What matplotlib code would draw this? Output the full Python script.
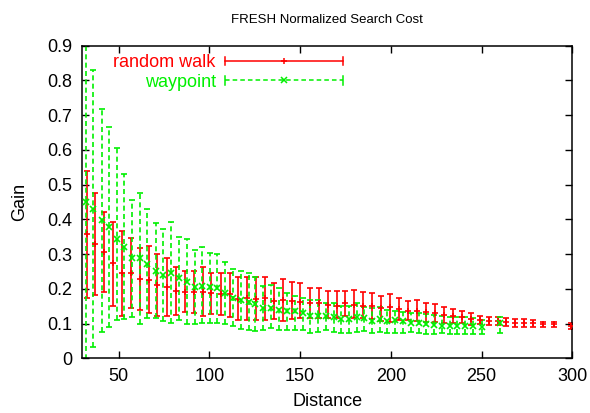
import matplotlib
matplotlib.use("Agg")
import matplotlib.pyplot as plt
from matplotlib.legend_handler import HandlerBase
from matplotlib.lines import Line2D
import numpy as np

plt.rcParams['font.family'] = ['Liberation Sans', 'DejaVu Sans']

# ---------------- data ----------------
rw_x = [32.4, 37.1, 41.9, 47.0, 51.8, 56.8, 61.7, 66.6, 71.4, 76.4,
        81.5, 86.4, 91.4, 96.3, 101.1, 106.2, 111.2, 115.7, 120.7, 125.6,
        130.8, 135.9, 140.7, 145.6, 150.2, 155.5, 160.2, 165.2, 170.1, 174.9,
        179.8, 184.8, 189.8, 194.8, 199.6, 204.6, 209.6, 214.3, 219.2, 224.2,
        229.3, 234.2, 239.0, 244.1, 249.1, 254.0, 258.9, 263.5, 268.7, 273.6,
        278.4, 283.8, 290.1, 299.5]
rw_y = [0.357, 0.328, 0.307, 0.274, 0.245, 0.245, 0.228, 0.226, 0.211, 0.206,
        0.194, 0.192, 0.192, 0.192, 0.187, 0.184, 0.184, 0.171, 0.173, 0.170,
        0.173, 0.165, 0.168, 0.166, 0.163, 0.158, 0.158, 0.154, 0.151, 0.158,
        0.154, 0.152, 0.152, 0.144, 0.149, 0.141, 0.137, 0.137, 0.132, 0.129,
        0.125, 0.122, 0.120, 0.114, 0.110, 0.107, 0.107, 0.105, 0.103, 0.103,
        0.101, 0.099, 0.099, 0.094]
rw_lo = [0.173, 0.182, 0.192, 0.152, 0.123, 0.144, 0.139, 0.130, 0.123, 0.122,
         0.125, 0.132, 0.131, 0.123, 0.127, 0.124, 0.120, 0.110, 0.110, 0.109,
         0.109, 0.113, 0.108, 0.112, 0.115, 0.115, 0.115, 0.115, 0.116, 0.122,
         0.115, 0.115, 0.112, 0.107, 0.105, 0.110, 0.110, 0.108, 0.105, 0.104,
         0.101, 0.101, 0.101, 0.096, 0.098, 0.096, 0.096, 0.094, 0.091, 0.091,
         0.091, 0.091, 0.089, 0.084]
rw_hi = [0.539, 0.475, 0.422, 0.393, 0.367, 0.345, 0.319, 0.323, 0.299, 0.290,
         0.262, 0.251, 0.252, 0.262, 0.247, 0.245, 0.247, 0.235, 0.235, 0.233,
         0.235, 0.216, 0.228, 0.221, 0.216, 0.203, 0.201, 0.194, 0.194, 0.194,
         0.198, 0.190, 0.189, 0.180, 0.184, 0.173, 0.166, 0.168, 0.160, 0.155,
         0.149, 0.141, 0.137, 0.131, 0.122, 0.120, 0.118, 0.115, 0.113, 0.112,
         0.110, 0.105, 0.105, 0.101]

wp_x = [32.0, 36.0, 40.8, 44.8, 49.1, 53.1, 57.5, 61.7, 65.9, 70.5,
        74.5, 78.7, 83.1, 87.5, 91.9, 95.9, 100.2, 104.2, 108.4, 112.8,
        117.2, 121.6, 125.4, 129.8, 134.1, 138.5, 142.6, 147.3, 151.4, 155.7,
        159.7, 164.3, 168.5, 172.5, 176.7, 181.1, 185.4, 189.6, 194.0, 198.1,
        202.3, 206.9, 211.0, 215.6, 219.6, 223.8, 228.0, 232.4, 236.6, 240.8,
        245.2, 250.0, 260.4]
wp_y = [0.449, 0.429, 0.397, 0.377, 0.343, 0.321, 0.288, 0.288, 0.272, 0.250,
        0.240, 0.246, 0.230, 0.220, 0.204, 0.209, 0.204, 0.201, 0.187, 0.175,
        0.168, 0.161, 0.156, 0.146, 0.144, 0.139, 0.136, 0.136, 0.130, 0.122,
        0.122, 0.122, 0.118, 0.112, 0.112, 0.120, 0.115, 0.108, 0.113, 0.108,
        0.110, 0.107, 0.103, 0.101, 0.099, 0.096, 0.093, 0.093, 0.093, 0.093,
        0.093, 0.091, 0.101]
wp_lo = [-0.050, 0.032, 0.075, 0.089, 0.110, 0.112, 0.120, 0.099, 0.115, 0.115,
         0.106, 0.102, 0.110, 0.099, 0.099, 0.101, 0.101, 0.101, 0.098, 0.094,
         0.084, 0.081, 0.079, 0.081, 0.086, 0.081, 0.081, 0.081, 0.081, 0.074,
         0.077, 0.081, 0.077, 0.074, 0.073, 0.077, 0.079, 0.072, 0.077, 0.074,
         0.072, 0.074, 0.077, 0.072, 0.070, 0.070, 0.072, 0.070, 0.070, 0.070,
         0.070, 0.070, 0.074]
wp_hi = [0.950, 0.830, 0.717, 0.667, 0.605, 0.530, 0.456, 0.477, 0.429, 0.389,
         0.371, 0.391, 0.350, 0.343, 0.312, 0.321, 0.302, 0.299, 0.276, 0.257,
         0.252, 0.245, 0.235, 0.209, 0.211, 0.203, 0.189, 0.179, 0.175, 0.168,
         0.168, 0.160, 0.158, 0.150, 0.150, 0.160, 0.149, 0.146, 0.149, 0.139,
         0.136, 0.134, 0.131, 0.131, 0.128, 0.125, 0.122, 0.120, 0.120, 0.118,
         0.117, 0.110, 0.118]

x_ticks = [50, 100, 150, 200, 250, 300]
y_ticks = [0, 0.1, 0.2, 0.3, 0.4, 0.5, 0.6, 0.7, 0.8, 0.9]

RED = '#ff0000'
GREEN = '#00f000'
FS = 13
TITLE_FS = 9.5

# ---------------- figure ----------------
fig = plt.figure(figsize=(5.9, 4.13), dpi=100)
ax = fig.add_axes([82.3 / 590, 1 - 358.3 / 413, (572.3 - 82.3) / 590, (358.3 - 45.7) / 413])


def errbars(x, y, lo, hi, color, marker, dashed):
    x = np.asarray(x); y = np.asarray(y)
    yerr = [y - np.asarray(lo), np.asarray(hi) - y]
    eb = ax.errorbar(x, y, yerr=yerr, fmt='none', ecolor=color, elinewidth=1.2,
                     capsize=2.2, capthick=1.2, clip_on=True, zorder=2)
    if dashed:
        eb[2][0].set_linestyle((0, (3, 2)))
    ax.plot(x, y, linestyle='none', marker=marker, color=color, markersize=5,
            markeredgewidth=1.2, zorder=3)
    return eb


errbars(rw_x, rw_y, rw_lo, rw_hi, RED, '+', False)
errbars(wp_x, wp_y, wp_lo, wp_hi, GREEN, 'x', True)

ax.set_xlim(30, 300)
ax.set_ylim(0, 0.9)
ax.set_xticks(x_ticks)
ax.set_yticks(y_ticks)
ax.set_yticklabels(['0' if v == 0 else f'{v:.1f}' for v in y_ticks])
ax.tick_params(direction='in', length=5, width=1, top=True, right=True,
               labelsize=FS, colors='black')
ax.tick_params(axis='x', pad=7)
ax.tick_params(axis='y', pad=7)
for s in ax.spines.values():
    s.set_linewidth(1.1)

ax.set_title('FRESH Normalized Search Cost', fontsize=TITLE_FS, pad=16)
ax.set_xlabel('Distance', fontsize=FS, labelpad=6)
ax.set_ylabel('Gain', fontsize=FS, labelpad=14)


# ---------------- gnuplot-style legend ----------------
class GnuErrHandler(HandlerBase):
    def __init__(self, color, marker, dashed):
        super().__init__()
        self.color = color
        self.marker = marker
        self.dashed = dashed

    def create_artists(self, legend, orig_handle, xdescent, ydescent, width,
                       height, fontsize, trans):
        yc = height / 2 - ydescent
        x0 = -xdescent
        x1 = x0 + width
        ls = (0, (3, 2)) if self.dashed else '-'
        arts = [Line2D([x0, x1], [yc, yc], color=self.color, lw=1.1, linestyle=ls)]
        for xe in (x0, x1):
            arts.append(Line2D([xe, xe], [yc - 3, yc + 3], color=self.color, lw=1.1))
        arts.append(Line2D([(x0 + x1) / 2], [yc], marker=self.marker, color=self.color,
                           markersize=5, markeredgewidth=1.1, linestyle='none'))
        for a in arts:
            a.set_transform(trans)
        return arts


h_rw = Line2D([], [], color=RED)
h_wp = Line2D([], [], color=GREEN)
leg = ax.legend([h_rw, h_wp], ['random walk', 'waypoint'], loc='upper right',
                bbox_to_anchor=((343 - 82.3) / 490, (358.3 - 54) / 312.6),
                frameon=False, markerfirst=False, fontsize=FS,
                handlelength=6.55, handletextpad=0.5, borderpad=0,
                borderaxespad=0, labelspacing=0.15,
                handler_map={h_rw: GnuErrHandler(RED, '+', False),
                             h_wp: GnuErrHandler(GREEN, 'x', True)})
for t, c in zip(leg.get_texts(), [RED, GREEN]):
    t.set_color(c)

fig.savefig('out.png', dpi=100)
